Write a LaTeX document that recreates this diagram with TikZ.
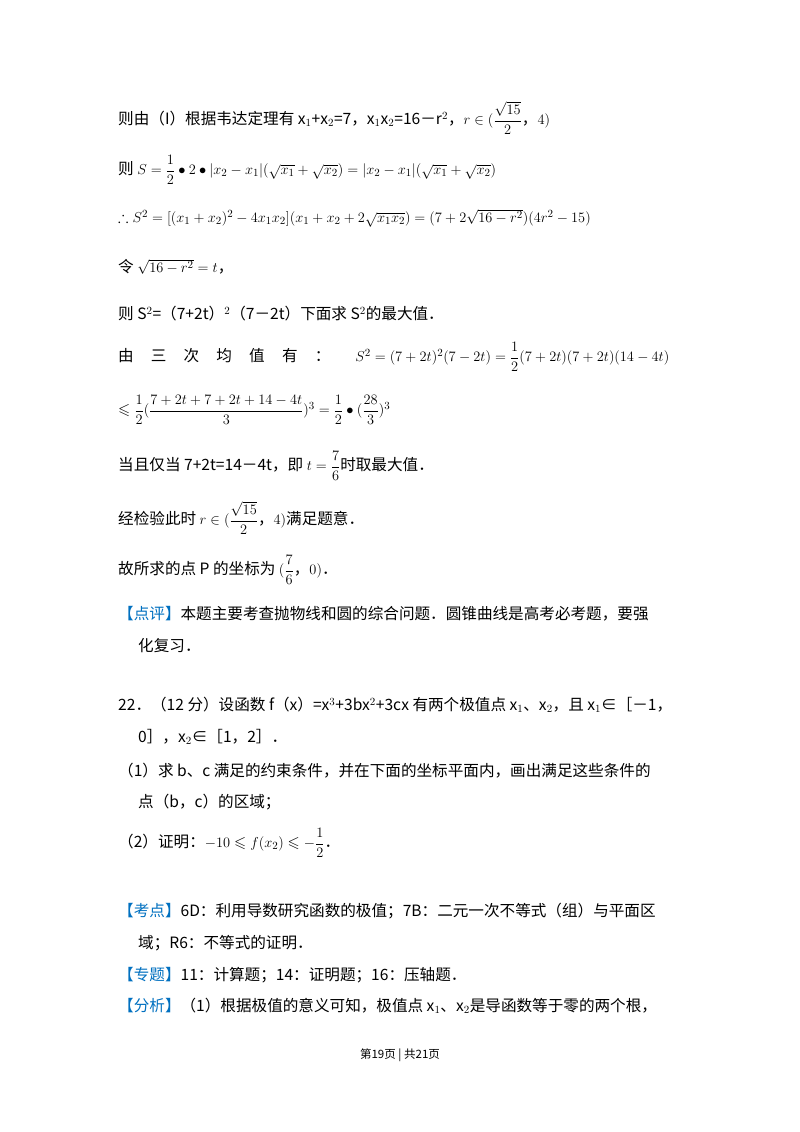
\documentclass[tikz,border=0pt]{standalone}
\usepackage{amsmath,amssymb}
\usepackage{fontspec}
\setmainfont{Noto Sans CJK SC}
\definecolor{hl}{HTML}{0070C0}
\begin{document}
\begin{tikzpicture}[x=1pt,y=-1pt,
  t/.style={anchor=west,inner sep=0pt,font=\fontsize{15.6}{18}\selectfont}]
\useasboundingbox[fill=white] (0,0) rectangle (800,1132);
\node[t] (l1) at (118,118) {则由（I）根据韦达定理有 x$_1$+x$_2$=7，x$_1$x$_2$=16－r$^2$，$r\in(\dfrac{\sqrt{15}}{2}，4)$};
\node[t] (l2) at (118,170) {则 $S=\dfrac12\bullet2\bullet|x_2-x_1|(\sqrt{x_1}+\sqrt{x_2})=|x_2-x_1|(\sqrt{x_1}+\sqrt{x_2})$};
\node[t] (l3) at (118,218) {$\therefore S^2=[(x_1+x_2)^2-4x_1x_2](x_1+x_2+2\sqrt{x_1x_2})=(7+2\sqrt{16-r^2})(4r^2-15)$};
\node[t] (l4) at (118,267) {令 $\sqrt{16-r^2}=t$，};
\node[t] (l5) at (118,314) {则 S$^2$=（7+2t）$^2$（7－2t）下面求 S$^2$的最大值．};
\node[t] (l6) at (118,357) {由\hspace{1.1em}三\hspace{1.1em}次\hspace{1.1em}均\hspace{1.1em}值\hspace{1.1em}有\hspace{1.1em}：\hspace{1.6em}$S^2=(7+2t)^2(7-2t)=\dfrac12(7+2t)(7+2t)(14-4t)$};
\node[t] (l7) at (118,410) {$\leqslant\dfrac12(\dfrac{7+2t+7+2t+14-4t}{3})^3=\dfrac12\bullet(\dfrac{28}{3})^3$};
\node[t] (l8) at (118,466) {当且仅当 7+2t=14－4t，即 $t=\dfrac76$时取最大值．};
\node[t] (l9) at (118,518) {经检验此时 $r\in(\dfrac{\sqrt{15}}{2}，4)$满足题意．};
\node[t] (l10) at (118,570) {故所求的点 P 的坐标为 $(\dfrac76，0)$．};
\node[t] (l11) at (118,614) {\textcolor{hl}{【点评】}本题主要考查抛物线和圆的综合问题．圆锥曲线是高考必考题，要强};
\node[t] (l12) at (138,646) {化复习．};
\node[t] (l13) at (118,705) {22．（12 分）设函数 f（x）=x$^3$+3bx$^2$+3cx 有两个极值点 x$_1$、x$_2$，且 x$_1$∈［－1，};
\node[t] (l14) at (138,737) {0］，x$_2$∈［1，2］．};
\node[t] (l15) at (118,771) {（1）求 b、c 满足的约束条件，并在下面的坐标平面内，画出满足这些条件的};
\node[t] (l16) at (138,802) {点（b，c）的区域；};
\node[t] (l17) at (118,843) {（2）证明：$-10\leqslant f(x_2)\leqslant-\dfrac12$．};
\node[t] (l18) at (118,911) {\textcolor{hl}{【考点】}6D：利用导数研究函数的极值；7B：二元一次不等式（组）与平面区};
\node[t] (l19) at (138,943) {域；R6：不等式的证明．};
\node[t] (l20) at (118,975) {\textcolor{hl}{【专题】}11：计算题；14：证明题；16：压轴题．};
\node[t] (l21) at (118,1006) {\textcolor{hl}{【分析】}（1）根据极值的意义可知，极值点 x$_1$、x$_2$是导函数等于零的两个根，};
\node[anchor=center,inner sep=0pt,font=\fontsize{11.5}{13}\selectfont] (ft) at (400,1055) {第19页 | 共21页};
\end{tikzpicture}
\end{document}
